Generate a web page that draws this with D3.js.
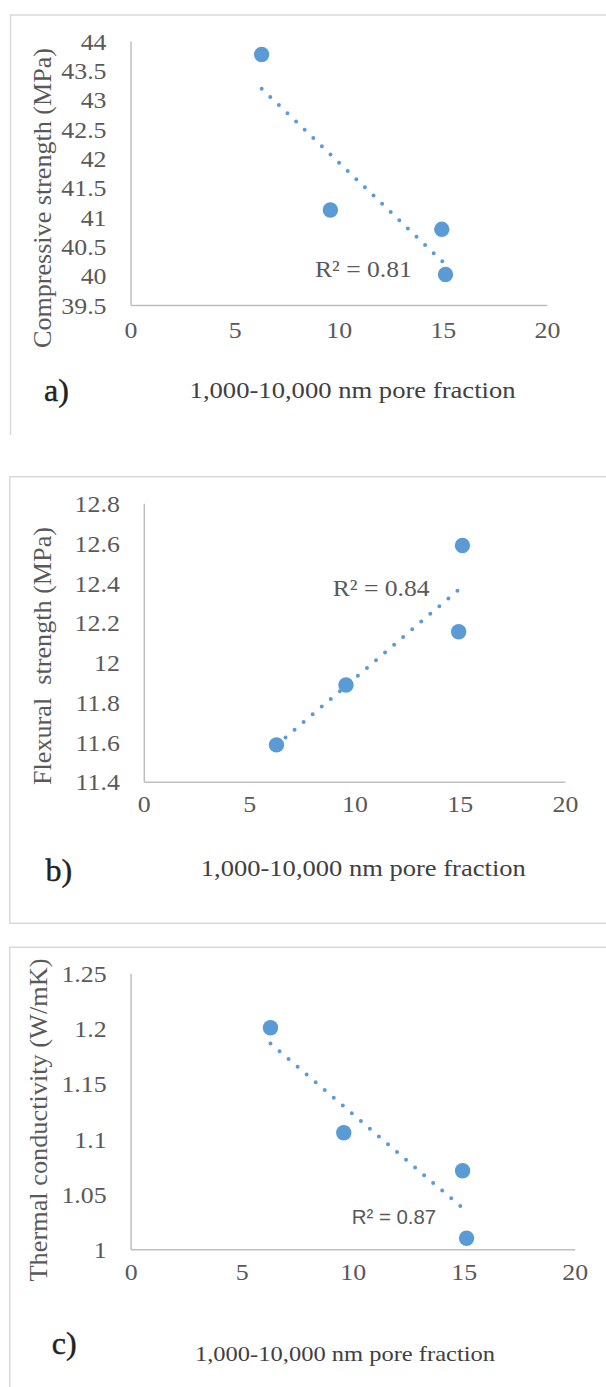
<!DOCTYPE html>
<html>
<head>
<meta charset="utf-8">
<script src="https://cdn.jsdelivr.net/npm/d3@7"></script>
<style>
  html, body { margin: 0; padding: 0; background: #fff; }
  svg { display: block; }
</style>
</head>
<body>
<svg id="fig" width="606" height="1387"></svg>
<script>
// ---- data -------------------------------------------------------------
const poreFraction = [6.3, 9.6, 14.95, 15.13];          // 1,000-10,000 nm pore fraction
const compressive  = [43.77, 41.12, 40.79, 40.02];      // MPa
const flexural     = [11.585, 11.886, 12.154, 12.588];  // MPa
const thermal      = [1.2007, 1.1056, 1.0712, 1.0100];  // W/mK

const xTicks     = [0, 5, 10, 15, 20];
const compTicks  = [39.5, 40, 40.5, 41, 41.5, 42, 42.5, 43, 43.5, 44];
const flexTicks  = [11.4, 11.6, 11.8, 12, 12.2, 12.4, 12.6, 12.8];
const thermTicks = [1, 1.05, 1.1, 1.15, 1.2, 1.25];

const r2Labels     = ["R\u00b2 = 0.81", "R\u00b2 = 0.84", "R\u00b2 = 0.87"];
const panelLetters = ["a)", "b)", "c)"];
const yTitles      = ["Compressive strength (MPa)", "Flexural\u00a0\u00a0strength (MPa)", "Thermal conductivity (W/mK)"];
const xTitle       = "1,000-10,000 nm pore fraction";

// ---- layout -----------------------------------------------------------
const SERIF = "'Liberation Serif', 'Times New Roman', serif";
const SANS  = "'Liberation Sans', Arial, sans-serif";
const BLUE  = "#5b9bd5";
const SX    = 1.1;    // horizontal stretch of the tick lettering

const panels = [
  { y: compressive, ticks: compTicks,  yDomain: [39.5, 44],
    xRange: [130.5, 546.9], yRange: [305, 41],
    frame: "M606,15H10.5V435",
    yTitle: { x: 42.5, y: 198, len: 300 },
    letter: { x: 44, y: 390 },
    xT: { x: 352.6, y: 390, len: 326, fs: 23 },
    r2: { x: 315, y: 269, font: SERIF, fs: 22.5, sx: 1.14 },
    xPad: 24.6 },
  { y: flexural, ticks: flexTicks, yDomain: [11.4, 12.8],
    xRange: [143.8, 565], yRange: [781.7, 503.3],
    frame: "M606,476.7H9.7V923.3H606",
    yTitle: { x: 42.5, y: 656, len: 258 },
    letter: { x: 45.6, y: 870 },
    xT: { x: 363.3, y: 868, len: 325, fs: 23 },
    r2: { x: 332.7, y: 588.3, font: SERIF, fs: 22.5, sx: 1.14 },
    xPad: 21.6 },
  { y: thermal, ticks: thermTicks, yDomain: [1, 1.25],
    xRange: [130.6, 574.7], yRange: [1249.3, 973.3],
    frame: "M606,947.3H9.7V1387",
    yTitle: { x: 38.6, y: 1120, len: 323 },
    letter: { x: 51.7, y: 1343 },
    xT: { x: 345, y: 1353, len: 300, fs: 22 },
    r2: { x: 351.7, y: 1216.7, font: SANS, fs: 20, sx: 1.02 },
    xPad: 22.3 }
];

const svg = d3.select("#fig");

// least-squares line through the points
function fit(xs, ys) {
  const mx = d3.mean(xs), my = d3.mean(ys);
  let sxy = 0, sxx = 0;
  xs.forEach((x, i) => { sxy += (x - mx) * (ys[i] - my); sxx += (x - mx) ** 2; });
  const b = sxy / sxx;
  return x => my + b * (x - mx);
}

panels.forEach((p, k) => {
  const g = svg.append("g");

  // panel frame
  g.append("path").attr("d", p.frame)
    .attr("fill", "none").attr("stroke", "#d9d9d9").attr("stroke-width", 1.5);

  const x = d3.scaleLinear().domain([0, 20]).range(p.xRange);
  const y = d3.scaleLinear().domain(p.yDomain).range(p.yRange);

  // axes
  const yAxis = g.append("g")
    .attr("transform", `translate(${p.xRange[0]},0)`)
    .call(d3.axisLeft(y).tickValues(p.ticks).tickSize(0).tickSizeOuter(0)
      .tickFormat(d => String(d)));
  yAxis.selectAll("text")
    .attr("x", -24 / SX).attr("dy", "0.35em")
    .attr("transform", `scale(${SX},1)`);

  const xAxis = g.append("g")
    .attr("transform", `translate(0,${p.yRange[0]})`)
    .call(d3.axisBottom(x).tickValues(xTicks).tickSize(0).tickSizeOuter(0)
      .tickFormat(d => String(d)));
  xAxis.selectAll("text")
    .attr("y", p.xPad).attr("dy", "0.35em")
    .attr("transform", `scale(${SX},1)`);

  [yAxis, xAxis].forEach(a => {
    a.select(".domain").attr("stroke", "#bfbfbf").attr("stroke-width", 1.5);
    a.selectAll("text").attr("fill", "#595959")
      .style("font-family", SERIF).style("font-size", "23.5px");
  });

  // dotted linear trendline
  const f = fit(poreFraction, p.y);
  const xs = d3.extent(poreFraction);
  g.append("line")
    .attr("x1", x(xs[0])).attr("y1", y(f(xs[0])))
    .attr("x2", x(xs[1])).attr("y2", y(f(xs[1])))
    .attr("stroke", BLUE).attr("stroke-width", 4)
    .attr("stroke-linecap", "round").attr("stroke-dasharray", "0 11.9");

  // data points
  g.selectAll("circle.pt").data(poreFraction).join("circle")
    .attr("class", "pt")
    .attr("cx", d => x(d)).attr("cy", (d, i) => y(p.y[i]))
    .attr("r", 7.7).attr("fill", BLUE);

  // R² annotation
  g.append("text")
    .attr("transform", `translate(${p.r2.x},${p.r2.y}) scale(${p.r2.sx},1)`)
    .attr("dy", "0.35em")
    .style("font-family", p.r2.font).style("font-size", p.r2.fs + "px")
    .attr("fill", "#595959").text(r2Labels[k]);

  // axis titles
  g.append("text")
    .attr("transform", `translate(${p.yTitle.x},${p.yTitle.y}) rotate(-90)`)
    .attr("text-anchor", "middle").attr("dy", "0.35em")
    .attr("textLength", p.yTitle.len).attr("lengthAdjust", "spacingAndGlyphs")
    .style("font-family", SERIF).style("font-size", "25px")
    .attr("fill", "#595959").text(yTitles[k]);

  g.append("text")
    .attr("x", p.xT.x - p.xT.len / 2).attr("y", p.xT.y).attr("dy", "0.35em")
    .attr("textLength", p.xT.len).attr("lengthAdjust", "spacingAndGlyphs")
    .style("font-family", SERIF).style("font-size", p.xT.fs + "px")
    .attr("fill", "#404040").text(xTitle);

  // panel letter
  g.append("text")
    .attr("x", p.letter.x).attr("y", p.letter.y).attr("dy", "0.35em")
    .style("font-family", SERIF).style("font-size", "32px")
    .attr("fill", "#222").attr("stroke", "#222").attr("stroke-width", 0.4)
    .text(panelLetters[k]);
});
</script>
</body>
</html>
